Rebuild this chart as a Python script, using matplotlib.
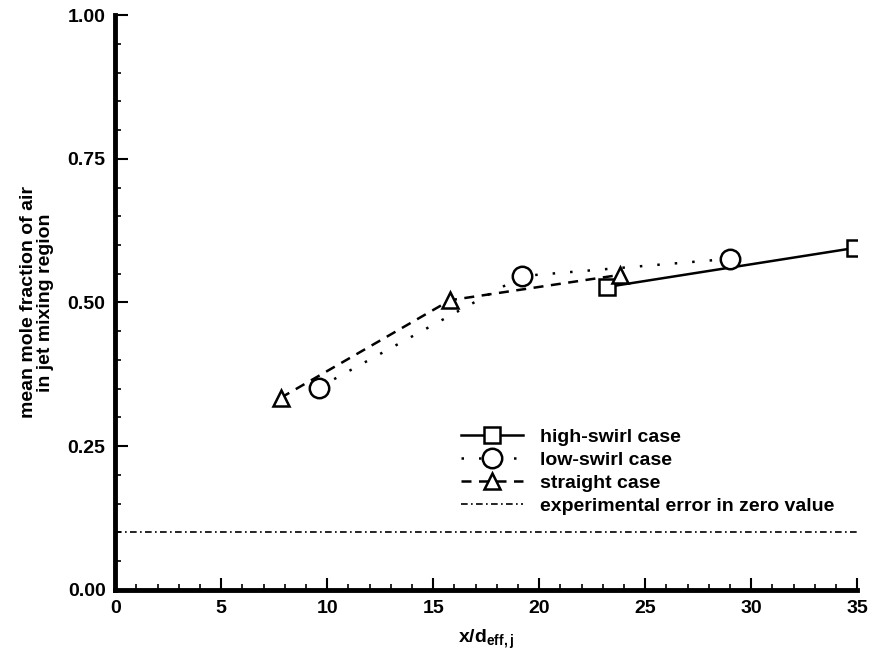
import numpy as np
import matplotlib
matplotlib.use('Agg')
from matplotlib import pyplot as plt
from matplotlib.ticker import MultipleLocator

plt.rcParams['font.family'] = ['Liberation Sans', 'DejaVu Sans']
plt.rcParams['font.weight'] = 'bold'
plt.rcParams['axes.labelweight'] = 'bold'
plt.rcParams['mathtext.default'] = 'bf'

# data
high_x = [23.2, 34.9]
high_y = [0.527, 0.595]
low_x = [9.6, 19.2, 29.0]
low_y = [0.352, 0.546, 0.576]
straight_x = [7.8, 15.8, 23.8]
straight_y = [0.334, 0.504, 0.548]
err_x = [0, 35]
err_y = [0.1, 0.1]

fig = plt.figure(figsize=(8.73, 6.59), dpi=100)
ax = fig.add_axes([0.132, 0.105, 0.850, 0.872])

ax.plot(high_x, high_y, 'k-', lw=1.8, marker='s', ms=11, mfc='white', mew=1.8,
        label='high-swirl case', zorder=3)
ax.plot(low_x, low_y, color='k', ls=(0, (1, 6)), lw=1.8, marker='o', ms=14, mfc='white',
        mew=1.8, label='low-swirl case', zorder=3)
ax.plot(straight_x, straight_y, color='k', ls=(0, (4, 3)), lw=1.8, marker='^', ms=12,
        mfc='white', mew=1.8, label='straight case', zorder=3)
ax.plot(err_x, err_y, color='k', ls=(0, (4, 2, 1, 2)), lw=1.2,
        label='experimental error in zero value')

ax.set_xlim(0, 35)
ax.set_ylim(0, 1)
ax.xaxis.set_major_locator(MultipleLocator(5))
ax.xaxis.set_minor_locator(MultipleLocator(1))
ax.yaxis.set_major_locator(MultipleLocator(0.25))
ax.yaxis.set_minor_locator(MultipleLocator(0.05))
ax.yaxis.set_major_formatter(plt.FormatStrFormatter('%.2f'))

for s in ['top', 'right']:
    ax.spines[s].set_visible(False)
for s in ['left', 'bottom']:
    ax.spines[s].set_linewidth(3.5)
ax.tick_params(which='major', direction='in', length=9, width=1.5, labelsize=14, pad=7)
ax.tick_params(which='minor', direction='in', length=4, width=1.2)

ax.set_ylabel('mean mole fraction of air\nin jet mixing region', fontsize=14,
              linespacing=1.0, labelpad=10)
ax.set_xlabel(r'x/d$_{\mathregular{eff,j}}$', fontsize=14, labelpad=8)

ax.legend(loc='upper left', bbox_to_anchor=(0.455, 0.295), frameon=False, numpoints=1,
          handlelength=3.2, handletextpad=0.9, labelspacing=0.28, fontsize=14,
          borderaxespad=0)

fig.savefig('out.png', dpi=100)
